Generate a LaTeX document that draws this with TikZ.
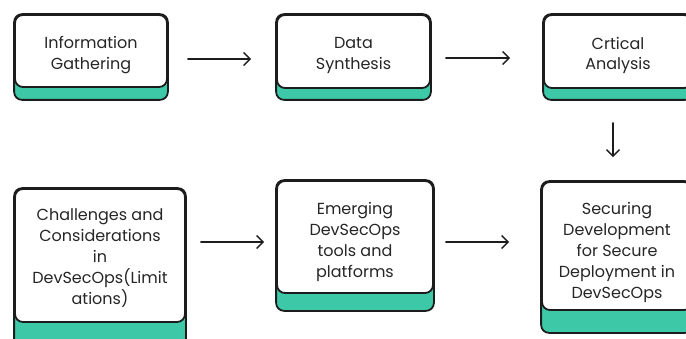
\documentclass[tikz,border=0pt]{standalone}
\usepackage{fontspec}
\setmainfont{Poppins}
\usetikzlibrary{arrows.meta,backgrounds}
\definecolor{mint}{HTML}{3DC9A8}
\definecolor{ink}{HTML}{1C1C1C}
\definecolor{txt}{HTML}{262626}
\tikzset{
  card/.style={draw=ink, line width=1.8pt, rounded corners=8pt, fill=white,
    inner sep=0pt},
  cardtext/.style={align=center, inner sep=0pt, text=txt,
    font=\fontsize{16}{20.8}\selectfont},
  base/.style={draw=ink, line width=1.8pt, rounded corners=8pt, fill=mint},
  flow/.style={draw=ink, line width=1.4pt, line cap=round,
    -{Straight Barb[length=6.5pt,width=13pt,line width=1.4pt]}},
}
\begin{document}
\begin{tikzpicture}[x=1pt,y=1pt]
\useasboundingbox (0,0) rectangle (686,338);
% top row: white cards with their captions
\node[card, minimum width=152pt, minimum height=72pt,
  label={[cardtext, name=infoT, yshift=-4pt]center:{Information\\Gathering}}]
  (info) at (91,287) {};
\node[card, minimum width=153pt, minimum height=73pt,
  label={[cardtext, name=synthT, yshift=-4pt]center:{Data\\Synthesis}}]
  (synth) at (353.5,286.5) {};
\node[card, minimum width=148pt, minimum height=73pt,
  label={[cardtext, name=critT, yshift=-4pt]center:{Crtical\\Analysis}}]
  (crit) at (618,286.5) {};
% bottom row
\node[card, minimum width=170pt, minimum height=133pt,
  label={[cardtext, name=chalT, yshift=-2.5pt]center:{Challenges and\\Considerations\\in\\DevSecOps(Limit\\ations)}}]
  (chal) at (100,82.5) {};
\node[card, minimum width=156pt, minimum height=112pt,
  label={[cardtext, name=emerT, yshift=-5pt]center:{Emerging\\DevSecOps\\tools and\\platforms}}]
  (emer) at (355,101) {};
\node[card, minimum width=150pt, minimum height=128pt,
  label={[cardtext, name=secuT, yshift=-6.5pt]center:{Securing\\Development\\for Secure\\Deployment in\\DevSecOps}}]
  (secu) at (617,92) {};
% green bases below each card
\begin{scope}[on background layer]
  \path[base] (info.north west)  rectangle ([yshift=-12pt]info.south east);
  \path[base] (synth.north west) rectangle ([yshift=-11pt]synth.south east);
  \path[base] (crit.north west)  rectangle ([yshift=-11pt]crit.south east);
  \path[base] (chal.north west)  rectangle ([yshift=-24pt]chal.south east);
  \path[base] (emer.north west)  rectangle ([yshift=-17pt]emer.south east);
  \path[base] (secu.north west)  rectangle ([yshift=-22pt]secu.south east);
\end{scope}
% connectors
\draw[flow, shorten <=20pt, shorten >=25pt]
  ([yshift=-8pt]info.east) -- ([yshift=-7.5pt]synth.west);
\draw[flow, shorten <=15pt, shorten >=33pt]
  ([yshift=-6.5pt]synth.east) -- ([yshift=-6.5pt]crit.west);
\draw[flow, shorten <=34pt, shorten >=24pt]
  ([xshift=-5pt]crit.south) -- ([xshift=-4pt]secu.north);
\draw[flow, shorten <=15pt, shorten >=12pt]
  ([yshift=13.5pt]chal.east) -- ([yshift=-5pt]emer.west);
\draw[flow, shorten <=12pt, shorten >=32pt]
  ([yshift=-5pt]emer.east) -- ([yshift=4pt]secu.west);
\end{tikzpicture}
\end{document}
